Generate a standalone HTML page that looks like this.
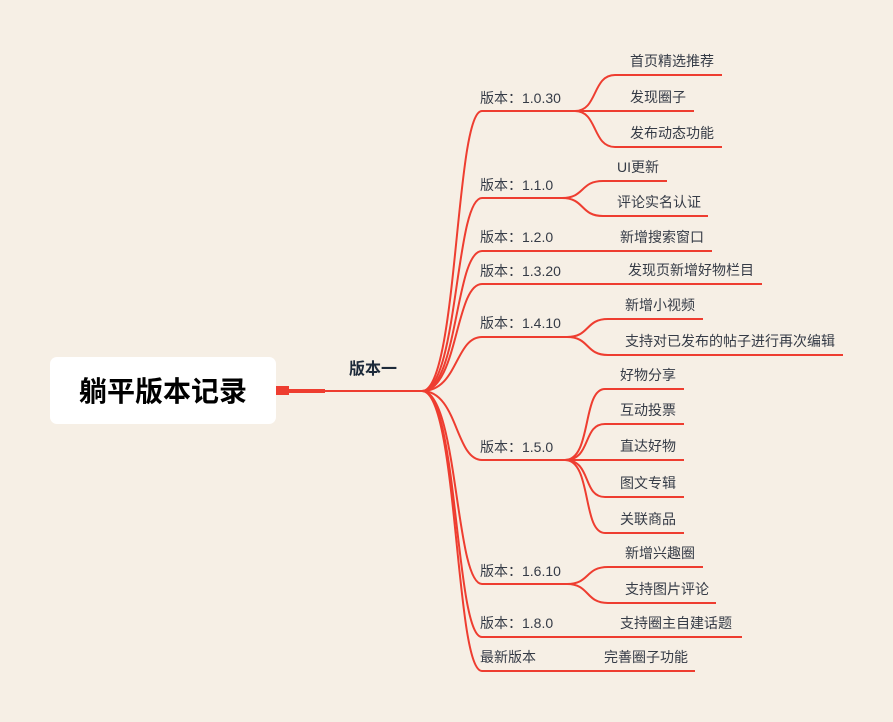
<!DOCTYPE html>
<html><head><meta charset="utf-8"><style>
html,body{margin:0;padding:0;background:#f6efe5;}
svg{display:block;}
text{font-family:"Liberation Sans","Noto Sans CJK SC",sans-serif;font-size:14px;fill:#353b46;}
</style></head><body>
<svg width="893" height="722" viewBox="0 0 893 722" xmlns="http://www.w3.org/2000/svg">
<rect x="0" y="0" width="893" height="722" fill="#f6efe5"/>
<rect x="50" y="357" width="226" height="67" rx="7" fill="#ffffff"/>
<text x="163" y="401" text-anchor="middle" style="font-size:28px;font-weight:bold;fill:#000">躺平版本记录</text>
<rect x="276" y="386" width="13" height="9" fill="#ee3d30"/>
<rect x="289" y="389" width="36" height="4" fill="#ee3d30"/>
<line x1="325" y1="391" x2="424" y2="391" stroke="#ee3d30" stroke-width="2"/>
<text x="373" y="374" text-anchor="middle" style="font-size:16px;font-weight:bold;fill:#1d2a3a">版本一</text>
<g fill="none" stroke="#ee3d30" stroke-width="2">
<path d="M422,391 C458,391 455,111 482,111 L580,111"/>
<path d="M422,391 C458,391 455,198 482,198 L567,198"/>
<path d="M422,391 C458,391 455,251 482,251 L712,251"/>
<path d="M422,391 C458,391 455,284 482,284 L762,284"/>
<path d="M422,391 C458,391 455,337 482,337 L572,337"/>
<path d="M422,391 C458,391 455,460 482,460 L570,460"/>
<path d="M422,391 C458,391 455,584 482,584 L572,584"/>
<path d="M422,391 C458,391 455,637 482,637 L742,637"/>
<path d="M422,391 C458,391 455,671 482,671 L695,671"/>
<path d="M575,111 C598,111 592,75 615,75 L722,75"/>
<path d="M575,111 L694,111"/>
<path d="M575,111 C598,111 592,147 615,147 L722,147"/>
<path d="M562,198 C585,198 580,181 603,181 L667,181"/>
<path d="M562,198 C585,198 580,216 603,216 L708,216"/>
<path d="M567,337 C590,337 585,319 608,319 L703,319"/>
<path d="M567,337 C590,337 585,355 608,355 L843,355"/>
<path d="M565,460 C592,460 582,389 605,389 L684,389"/>
<path d="M565,460 C592,460 582,424 605,424 L684,424"/>
<path d="M565,460 L684,460"/>
<path d="M565,460 C592,460 582,497 605,497 L684,497"/>
<path d="M565,460 C592,460 582,533 605,533 L684,533"/>
<path d="M567,584 C590,584 585,567 608,567 L703,567"/>
<path d="M567,584 C590,584 585,603 608,603 L716,603"/>
</g>
<text x="480" y="103">版本：1.0.30</text>
<text x="480" y="190">版本：1.1.0</text>
<text x="480" y="242">版本：1.2.0</text>
<text x="480" y="276">版本：1.3.20</text>
<text x="480" y="328">版本：1.4.10</text>
<text x="480" y="452">版本：1.5.0</text>
<text x="480" y="576">版本：1.6.10</text>
<text x="480" y="628">版本：1.8.0</text>
<text x="480" y="662">最新版本</text>
<text x="630" y="66">首页精选推荐</text>
<text x="630" y="102">发现圈子</text>
<text x="630" y="138">发布动态功能</text>
<text x="617" y="172">UI更新</text>
<text x="617" y="207">评论实名认证</text>
<text x="620" y="242">新增搜索窗口</text>
<text x="628" y="275">发现页新增好物栏目</text>
<text x="625" y="310">新增小视频</text>
<text x="625" y="346">支持对已发布的帖子进行再次编辑</text>
<text x="620" y="380">好物分享</text>
<text x="620" y="415">互动投票</text>
<text x="620" y="451">直达好物</text>
<text x="620" y="488">图文专辑</text>
<text x="620" y="524">关联商品</text>
<text x="625" y="558">新增兴趣圈</text>
<text x="625" y="594">支持图片评论</text>
<text x="620" y="628">支持圈主自建话题</text>
<text x="604" y="662">完善圈子功能</text>
</svg>
</body></html>
